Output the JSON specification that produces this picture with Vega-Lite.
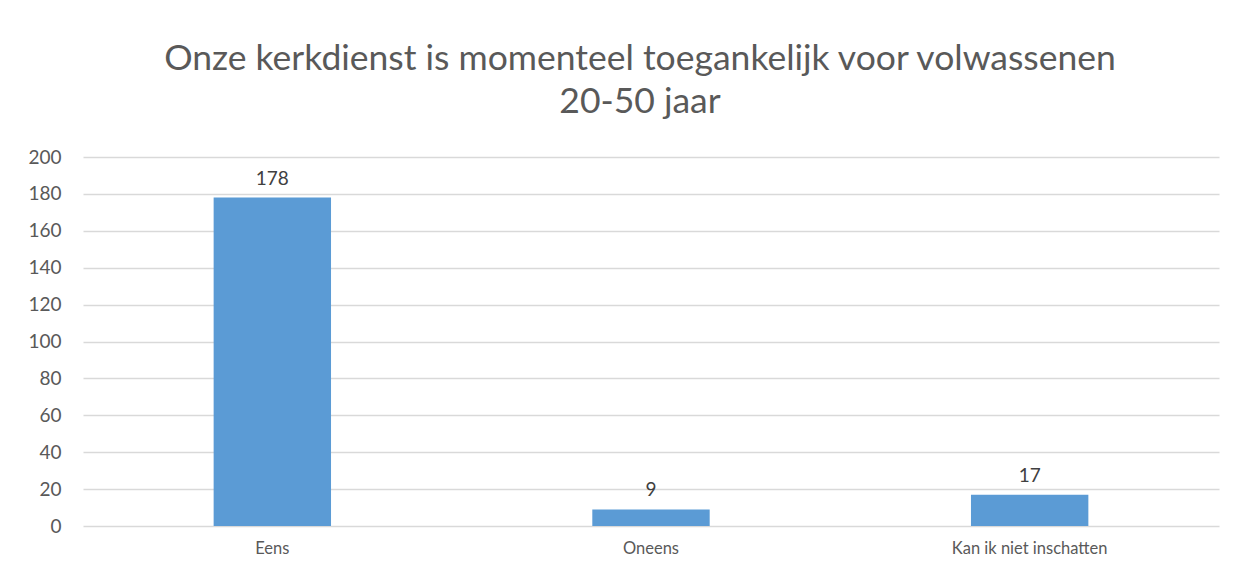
{
  "$schema": "https://vega.github.io/schema/vega-lite/v6.json",
  "width": 1136,
  "height": 369,
  "autosize": {"type": "none"},
  "padding": {"left": 83, "top": 157, "right": 18, "bottom": 52},
  "background": "white",
  "title": {
    "text": ["Onze kerkdienst is momenteel toegankelijk voor volwassenen", "20-50 jaar"],
    "font": "Lato",
    "fontSize": 35.5,
    "fontWeight": "normal",
    "color": "#595959",
    "anchor": "middle",
    "dx": -11,
    "lineHeight": 43,
    "offset": 28
  },
  "data": {
    "values": [
      {"categorie": "Eens", "aantal": 178},
      {"categorie": "Oneens", "aantal": 9},
      {"categorie": "Kan ik niet inschatten", "aantal": 17}
    ]
  },
  "encoding": {
    "x": {
      "field": "categorie",
      "type": "nominal",
      "sort": null,
      "scale": {"paddingInner": 0.69, "paddingOuter": 0.345},
      "axis": {
        "title": null,
        "labelAngle": 0,
        "labelFont": "Lato",
        "labelFontSize": 16.5,
        "labelColor": "#595959",
        "ticks": false,
        "domain": false,
        "labelPadding": 14
      }
    },
    "y": {
      "field": "aantal",
      "type": "quantitative",
      "scale": {"domain": [0, 200]},
      "axis": {
        "title": null,
        "values": [0, 20, 40, 60, 80, 100, 120, 140, 160, 180, 200],
        "labelFont": "Lato",
        "labelFontSize": 19,
        "labelColor": "#595959",
        "ticks": false,
        "domain": false,
        "labelPadding": 22,
        "gridColor": "#D9D9D9",
        "gridWidth": 1.5
      }
    }
  },
  "layer": [
    {"mark": {"type": "bar", "color": "#5B9BD5"}},
    {
      "mark": {"type": "text", "font": "Lato", "fontSize": 19, "color": "#404040", "baseline": "bottom", "dy": -9},
      "encoding": {"text": {"field": "aantal", "type": "quantitative"}}
    }
  ],
  "config": {"view": {"stroke": null}}
}
